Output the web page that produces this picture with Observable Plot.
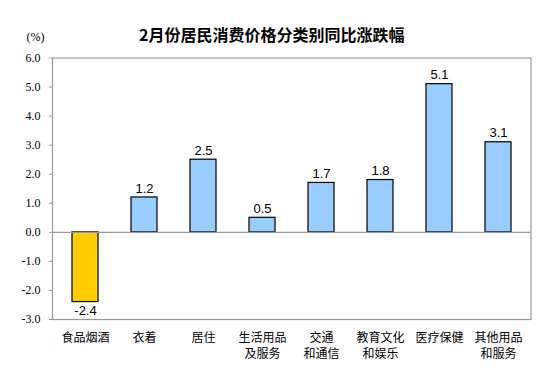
<!DOCTYPE html>
<html>
<head>
<meta charset="utf-8">
<script src="https://cdn.jsdelivr.net/npm/d3@7"></script>
<script src="https://cdn.jsdelivr.net/npm/@observablehq/plot@0.6"></script>
<style>
  body { margin: 0; background: #fff; }
</style>
</head>
<body>
<div id="chart"></div>
<script>
const categories = ["食品烟酒", "衣着", "居住", "生活用品\n及服务", "交通\n和通信", "教育文化\n和娱乐", "医疗保健", "其他用品\n和服务"];
const values = [-2.4, 1.2, 2.5, 0.5, 1.7, 1.8, 5.1, 3.1];
const yTicks = [-3, -2, -1, 0, 1, 2, 3, 4, 5, 6];
const title = "2月份居民消费价格分类别同比涨跌幅";
const unit = "(%)";

const data = categories.map((c, i) => ({category: c, value: values[i]}));

const chart = Plot.plot({
  width: 553,
  height: 384,
  marginLeft: 52,
  marginRight: 22.5,
  marginTop: 57.5,
  marginBottom: 65,
  style: {background: "#fff", overflow: "visible"},
  x: {domain: categories, paddingInner: 0.56, paddingOuter: 0.28, label: null},
  y: {domain: [-3, 6], label: null},
  marks: [
    Plot.axisY({
      ticks: yTicks,
      tickFormat: d => d.toFixed(1),
      tickSize: 3,
      tickPadding: 9,
      stroke: "#999",
      fontFamily: "Liberation Serif, Times New Roman, serif",
      fontSize: 12,
      fill: "#000"
    }),
    Plot.axisX({
      tickSize: 0,
      tickPadding: 11,
      fontFamily: "Noto Sans CJK SC, sans-serif",
      fontSize: 12,
      lineHeight: 1.35,
      fill: "#000"
    }),
    Plot.barY(data, {
      x: "category",
      y: "value",
      fill: d => d.value < 0 ? "#ffcc00" : "#99ccff",
      stroke: "#000",
      strokeWidth: 1.2
    }),
    Plot.frame({stroke: "#999", strokeWidth: 1.2}),
    Plot.ruleY([0], {stroke: "#999", strokeWidth: 1.2}),
    Plot.text(data.filter(d => d.value >= 0), {
      x: "category",
      y: "value",
      text: d => d.value.toFixed(1),
      dy: -9,
      fontFamily: "Liberation Sans, Arial, sans-serif",
      fontSize: 13,
      fill: "#000"
    }),
    Plot.text(data.filter(d => d.value < 0), {
      x: "category",
      y: "value",
      text: d => d.value.toFixed(1),
      dy: 9,
      fontFamily: "Liberation Sans, Arial, sans-serif",
      fontSize: 13,
      fill: "#000"
    }),
    Plot.text([title], {
      frameAnchor: "top",
      dx: -20,
      dy: -28,
      text: d => d,
      fontFamily: "Noto Sans CJK SC, sans-serif",
      fontSize: 16,
      fontWeight: "bold",
      fill: "#000"
    }),
    Plot.text([unit], {
      frameAnchor: "top-left",
      dx: -26,
      dy: -25.5,
      text: d => d,
      fontFamily: "Liberation Serif, Times New Roman, serif",
      fontSize: 12,
      fill: "#000"
    })
  ]
});
document.getElementById("chart").appendChild(chart);
</script>
</body>
</html>
